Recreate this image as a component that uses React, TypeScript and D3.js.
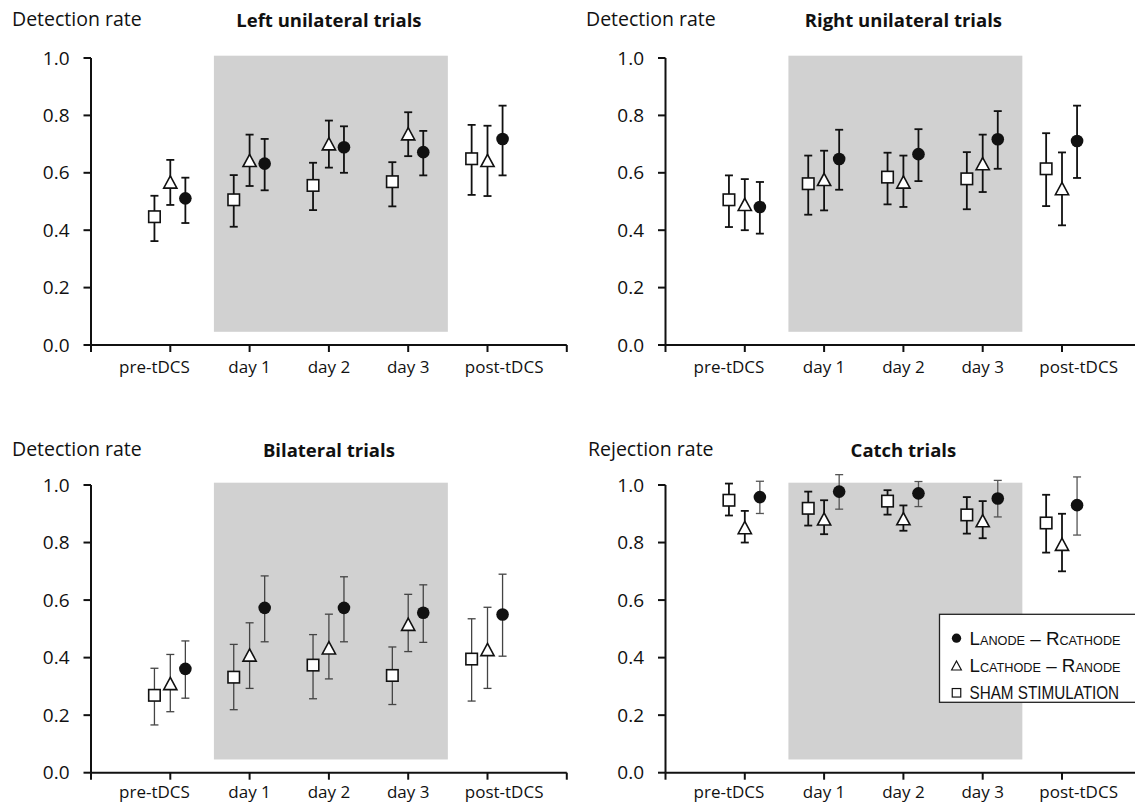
import React from "react";
import * as d3 from "d3";

const categories = ["pre-tDCS", "day 1", "day 2", "day 3", "post-tDCS"];
const labelShift = [-0.2, 0, 0, 0, 0.21];
const yTicks = [0, 0.2, 0.4, 0.6, 0.8, 1.0];

// Left unilateral trials
const leftShamMean = [0.447, 0.506, 0.556, 0.569, 0.649];
const leftShamLo = [0.362, 0.412, 0.47, 0.483, 0.523];
const leftShamHi = [0.52, 0.592, 0.635, 0.637, 0.767];
const leftCathMean = [0.568, 0.643, 0.701, 0.736, 0.643];
const leftCathLo = [0.488, 0.554, 0.618, 0.658, 0.519];
const leftCathHi = [0.645, 0.733, 0.782, 0.811, 0.764];
const leftAnodMean = [0.511, 0.632, 0.689, 0.672, 0.718];
const leftAnodLo = [0.425, 0.539, 0.6, 0.591, 0.591];
const leftAnodHi = [0.583, 0.718, 0.762, 0.746, 0.834];

// Right unilateral trials
const rightShamMean = [0.506, 0.562, 0.585, 0.579, 0.614];
const rightShamLo = [0.411, 0.454, 0.49, 0.473, 0.484];
const rightShamHi = [0.591, 0.66, 0.67, 0.672, 0.738];
const rightCathMean = [0.49, 0.577, 0.568, 0.632, 0.545];
const rightCathLo = [0.4, 0.469, 0.481, 0.533, 0.417];
const rightCathHi = [0.578, 0.677, 0.66, 0.733, 0.671];
const rightAnodMean = [0.481, 0.648, 0.665, 0.717, 0.711];
const rightAnodLo = [0.388, 0.541, 0.571, 0.614, 0.582];
const rightAnodHi = [0.568, 0.75, 0.752, 0.815, 0.834];

// Bilateral trials
const bilShamMean = [0.269, 0.332, 0.374, 0.338, 0.395];
const bilShamLo = [0.166, 0.219, 0.257, 0.237, 0.249];
const bilShamHi = [0.363, 0.446, 0.48, 0.437, 0.535];
const bilCathMean = [0.31, 0.409, 0.434, 0.516, 0.428];
const bilCathLo = [0.212, 0.293, 0.326, 0.421, 0.293];
const bilCathHi = [0.411, 0.521, 0.551, 0.62, 0.575];
const bilAnodMean = [0.361, 0.573, 0.573, 0.556, 0.55];
const bilAnodLo = [0.259, 0.455, 0.455, 0.453, 0.405];
const bilAnodHi = [0.458, 0.684, 0.681, 0.653, 0.69];

// Catch trials
const catchShamMean = [0.947, 0.919, 0.944, 0.896, 0.868];
const catchShamLo = [0.894, 0.859, 0.897, 0.831, 0.765];
const catchShamHi = [1.005, 0.977, 0.982, 0.958, 0.966];
const catchCathMean = [0.852, 0.882, 0.883, 0.876, 0.794];
const catchCathLo = [0.8, 0.829, 0.841, 0.815, 0.7];
const catchCathHi = [0.91, 0.947, 0.929, 0.944, 0.9];
const catchAnodMean = [0.958, 0.977, 0.971, 0.953, 0.93];
const catchAnodLo = [0.901, 0.916, 0.925, 0.889, 0.826];
const catchAnodHi = [1.013, 1.036, 1.012, 1.016, 1.028];

const shade = { x0: 1.55, x1: 4.5, y0: 0.046, y1: 1.008 };

type Series = { kind: "square" | "triangle" | "circle"; mean: number[]; lo: number[]; hi: number[]; offset: number; errColor: string; errWidth: number };

const mk = (kind: Series["kind"], mean: number[], lo: number[], hi: number[], offset: number, errColor = "#111", errWidth = 1.8): Series => ({ kind, mean, lo, hi, offset, errColor, errWidth });

const panels = [
  {
    title: "Left unilateral trials", ylabel: "Detection rate", left: 91, top: 58, bottom: 345, ylabelX: 12, textTop: 26, xlabelDy: 28,
    series: [mk("square", leftShamMean, leftShamLo, leftShamHi, -0.2), mk("triangle", leftCathMean, leftCathLo, leftCathHi, 0), mk("circle", leftAnodMean, leftAnodLo, leftAnodHi, 0.19)],
  },
  {
    title: "Right unilateral trials", ylabel: "Detection rate", left: 665.5, top: 58, bottom: 345, ylabelX: 586, textTop: 26, xlabelDy: 28,
    series: [mk("square", rightShamMean, rightShamLo, rightShamHi, -0.2), mk("triangle", rightCathMean, rightCathLo, rightCathHi, 0), mk("circle", rightAnodMean, rightAnodLo, rightAnodHi, 0.19)],
  },
  {
    title: "Bilateral trials", ylabel: "Detection rate", left: 91, top: 485, bottom: 772.7, ylabelX: 12, textTop: 455.5, xlabelDy: 25,
    series: [mk("square", bilShamMean, bilShamLo, bilShamHi, -0.2, "#444", 1.3), mk("triangle", bilCathMean, bilCathLo, bilCathHi, 0, "#444", 1.3), mk("circle", bilAnodMean, bilAnodLo, bilAnodHi, 0.19, "#444", 1.3)],
  },
  {
    title: "Catch trials", ylabel: "Rejection rate", left: 665.5, top: 485, bottom: 772.7, ylabelX: 588, textTop: 455.5, xlabelDy: 25,
    series: [mk("square", catchShamMean, catchShamLo, catchShamHi, -0.2), mk("triangle", catchCathMean, catchCathLo, catchCathHi, 0), mk("circle", catchAnodMean, catchAnodLo, catchAnodHi, 0.19, "#555", 1.3)],
  },
];

const UNIT = 79.3;
const FONT = "'Open Sans', sans-serif";
const INK = "#111";

function Marker({ kind, x, y, scale = 1 }: { kind: string; x: number; y: number; scale?: number }) {
  if (kind === "circle") return <circle cx={x} cy={y} r={6.3 * scale} fill={INK} />;
  if (kind === "square") {
    const s = 11.5 * scale;
    return <rect x={x - s / 2} y={y - s / 2} width={s} height={s} fill="#fff" stroke={INK} strokeWidth={1.6 * scale} />;
  }
  const w = 6.6 * scale, h = 6.1 * scale;
  return <path d={`M${x},${y - h}L${x + w},${y + h}L${x - w},${y + h}Z`} fill="#fff" stroke={INK} strokeWidth={1.6 * scale} strokeLinejoin="miter" />;
}

function Panel({ p }: { p: (typeof panels)[number] }) {
  const x = d3.scaleLinear().domain([0, 6]).range([p.left, p.left + 6 * UNIT]);
  const y = d3.scaleLinear().domain([0, 1]).range([p.bottom, p.top]);
  return (
    <g>
      <rect x={x(shade.x0)} y={y(shade.y1)} width={x(shade.x1) - x(shade.x0)} height={y(shade.y0) - y(shade.y1)} fill="#d1d1d1" />
      <text x={p.ylabelX} y={p.textTop} fontFamily={FONT} fontSize={19.5} fill={INK}>{p.ylabel}</text>
      <text x={x(3)} y={p.textTop + 1} fontFamily={FONT} fontSize={18.5} fontWeight={700} fill={INK} textAnchor="middle">{p.title}</text>
      {/* y axis */}
      <line x1={x(0)} x2={x(0)} y1={y(0)} y2={y(1)} stroke={INK} strokeWidth={2} />
      {yTicks.map((t) => (
        <g key={t}>
          <line x1={x(0) - 7.5} x2={x(0)} y1={y(t)} y2={y(t)} stroke={INK} strokeWidth={2} />
          <text x={x(0) - 21.5} y={y(t) + 6.5} fontFamily={FONT} fontSize={19} fill={INK} textAnchor="end">{d3.format(".1f")(t)}</text>
        </g>
      ))}
      {/* x axis */}
      <line x1={x(0)} x2={x(6)} y1={y(0)} y2={y(0)} stroke={INK} strokeWidth={2} />
      {d3.range(0, 7).map((i) => (
        <line key={i} x1={x(i)} x2={x(i)} y1={y(0)} y2={y(0) + 7} stroke={INK} strokeWidth={2} />
      ))}
      {categories.map((c, i) => (
        <text key={c} x={x(i + 1 + labelShift[i])} y={y(0) + p.xlabelDy} fontFamily={FONT} fontSize={17} fill={INK} textAnchor="middle">{c}</text>
      ))}
      {/* error bars */}
      {p.series.map((s, si) =>
        s.mean.map((m, i) => {
          const px = x(i + 1 + s.offset);
          return (
            <g key={`e${si}-${i}`} stroke={s.errColor} strokeWidth={s.errWidth}>
              <line x1={px} x2={px} y1={y(s.lo[i])} y2={y(s.hi[i])} />
              <line x1={px - 4} x2={px + 4} y1={y(s.lo[i])} y2={y(s.lo[i])} />
              <line x1={px - 4} x2={px + 4} y1={y(s.hi[i])} y2={y(s.hi[i])} />
            </g>
          );
        })
      )}
      {p.series.map((s, si) =>
        s.mean.map((m, i) => <Marker key={`m${si}-${i}`} kind={s.kind} x={x(i + 1 + s.offset)} y={y(m)} />)
      )}
    </g>
  );
}

const legendItems = [
  { kind: "circle", big1: "L", small1: "ANODE", big2: " – R", small2: "CATHODE", squeeze: 1.0 },
  { kind: "triangle", big1: "L", small1: "CATHODE", big2: " – R", small2: "ANODE", squeeze: 1.0 },
  { kind: "square", big1: "SHAM STIMULATION", small1: "", big2: "", small2: "", squeeze: 0.825 },
];

function Legend() {
  const LF = "'Liberation Sans', Arial, sans-serif";
  return (
    <g>
      <rect x={939.5} y={614.3} width={220} height={88} fill="#fff" stroke="#222" strokeWidth={1.3} />
      {legendItems.map((it, i) => {
        const base = 644.5 + i * 27.3;
        const tl = it.squeeze === 1 ? { textLength: 151, lengthAdjust: "spacingAndGlyphs" } : {};
        return (
          <g key={i}>
            <Marker kind={it.kind} x={956.5} y={base - 6.3} scale={0.74} />
            <g transform={`translate(969.5,${base}) scale(${it.squeeze},1)`}>
              <text x={0} y={0} fontFamily={LF} fontSize={18.5} fill={INK} {...tl}>
                <tspan>{it.big1}</tspan>
                {it.small1 && <tspan fontSize={12.5}>{it.small1}</tspan>}
                {it.big2 && <tspan>{it.big2}</tspan>}
                {it.small2 && <tspan fontSize={12.5}>{it.small2}</tspan>}
              </text>
            </g>
          </g>
        );
      })}
    </g>
  );
}

export default function App() {
  return (
    <>
      <style>{`body{margin:0}`}</style>
      <svg width={1135} height={804} style={{ display: "block", background: "#fff" }}>
        {panels.map((p) => (
          <Panel key={p.title} p={p} />
        ))}
        <Legend />
      </svg>
    </>
  );
}
